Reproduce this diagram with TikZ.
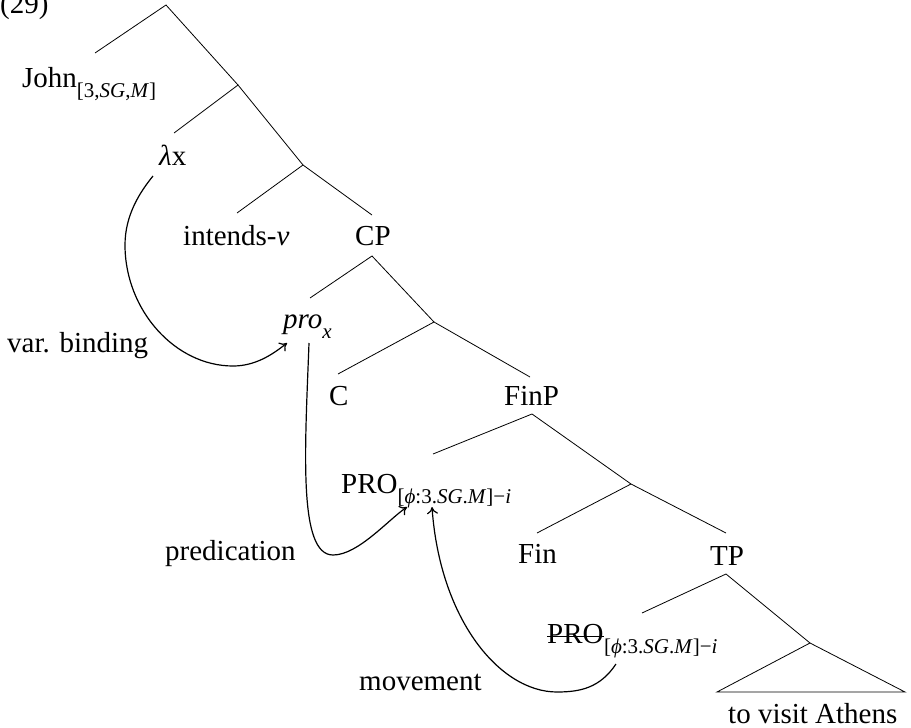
\documentclass[tikz,border=0pt]{standalone}
\usepackage{fontspec}
\setmainfont{Liberation Serif}
\usetikzlibrary{arrows.meta}
\newcommand{\mysub}[1]{\raisebox{-0.35em}{\fontsize{21}{21}\selectfont #1}}
\tikzset{
  lbl/.style={anchor=base west, inner sep=0pt, font=\fontsize{29}{31}\selectfont},
  branch/.style={line width=0.8pt},
  relarrow/.style={line width=1.2pt, -{To[length=7pt,width=11pt]}}
}
\begin{document}
\begin{tikzpicture}[x=1pt,y=-1pt]
\useasboundingbox (0,0) rectangle (911,728);
% labels
\node[lbl] (ex) at (0,13) {(29)};
\node[lbl] (john) at (22,87) {John\mysub{[3,\textit{SG},\textit{M}]}};
\node[lbl] (lam) at (159,165) {\textit{λ}x};
\node[lbl] (int) at (183,245) {intends-\textit{ν}};
\node[lbl] (cp) at (355,245) {CP};
\node[lbl] (pro) at (283,328) {\textit{pro}\mysub{\textit{x}}};
\node[lbl] (varb) at (7,352) {var. binding};
\node[lbl] (c) at (329,405) {C};
\node[lbl] (finp) at (504,405) {FinP};
\node[lbl] (PRO) at (341,493) {PRO\mysub{[\textit{ϕ}:3.\textit{SG}.\textit{M}]−\textit{i}}};
\node[lbl] (pred) at (165,560) {predication};
\node[lbl] (fin) at (518,563) {Fin};
\node[lbl] (tp) at (710,565) {TP};
\node[lbl] (PROt) at (547,643) {PRO};
\node[lbl, anchor=base west] (PROtsub) at (PROt.base east) {\mysub{[\textit{ϕ}:3.\textit{SG}.\textit{M}]−\textit{i}}};
\node[lbl] (mov) at (359,690) {movement};
\node[lbl] (vp) at (728,723) {to visit Athens};
% strike-through of the trace
\draw[line width=1pt] ([yshift=6.5pt]PROt.base west) -- ([yshift=6.5pt]PROt.base east);
% tree points
\coordinate (r0) at (166,5);
\coordinate (johnT) at (95,53);
\coordinate (a1) at (238,85);
\coordinate (lamT) at (174,133);
\coordinate (a2) at (303,165);
\coordinate (intT) at (237,213);
\coordinate (cpT) at (372,215);
\coordinate (cpB) at (372,256);
\coordinate (proT) at (310,298);
\coordinate (a3) at (434,322);
\coordinate (cT) at (338,374);
\coordinate (finpT) at (530,377);
\coordinate (finpB) at (532,414);
\coordinate (PROT) at (433,454);
\coordinate (a4) at (631,484);
\coordinate (finT) at (537,533);
\coordinate (tpT) at (726,533);
\coordinate (tpB) at (726,574);
\coordinate (PROtT) at (642,613);
\coordinate (a5) at (810,643);
\coordinate (triL) at (717,692);
\coordinate (triR) at (905,692);
% branches
\draw[branch] (johnT) -- (r0) -- (a1);
\draw[branch] (lamT) -- (a1) -- (a2);
\draw[branch] (intT) -- (a2) -- (cpT);
\draw[branch] (proT) -- (cpB) -- (a3);
\draw[branch] (cT) -- (a3) -- (finpT);
\draw[branch] (PROT) -- (finpB) -- (a4);
\draw[branch] (finT) -- (a4) -- (tpT);
\draw[branch] (PROtT) -- (tpB) -- (a5);
\draw[branch] (a5) -- (triL) -- (triR) -- cycle;
% arrows
\coordinate (b0) at (153,176);
\coordinate (b1) at (125,245);
\coordinate (b2) at (233,366);
\coordinate (b3) at (287,343);
\draw[relarrow] (b0) .. controls (140,192) and (125,215) .. (b1)
  .. controls (125,310) and (175,366) .. (b2)
  .. controls (255,366) and (272,355) .. (b3);
\coordinate (p0) at (309,343);
\coordinate (p1) at (333,555);
\coordinate (p2) at (407,507);
\draw[relarrow] (p0) .. controls (305,450) and (298,555) .. (p1)
  .. controls (358,555) and (388,520) .. (p2);
\coordinate (m0) at (616,664);
\coordinate (m1) at (557,692);
\coordinate (m2) at (432,507);
\draw[relarrow] (m0) .. controls (600,688) and (580,692) .. (m1)
  .. controls (500,692) and (440,620) .. (m2);
\end{tikzpicture}
\end{document}
